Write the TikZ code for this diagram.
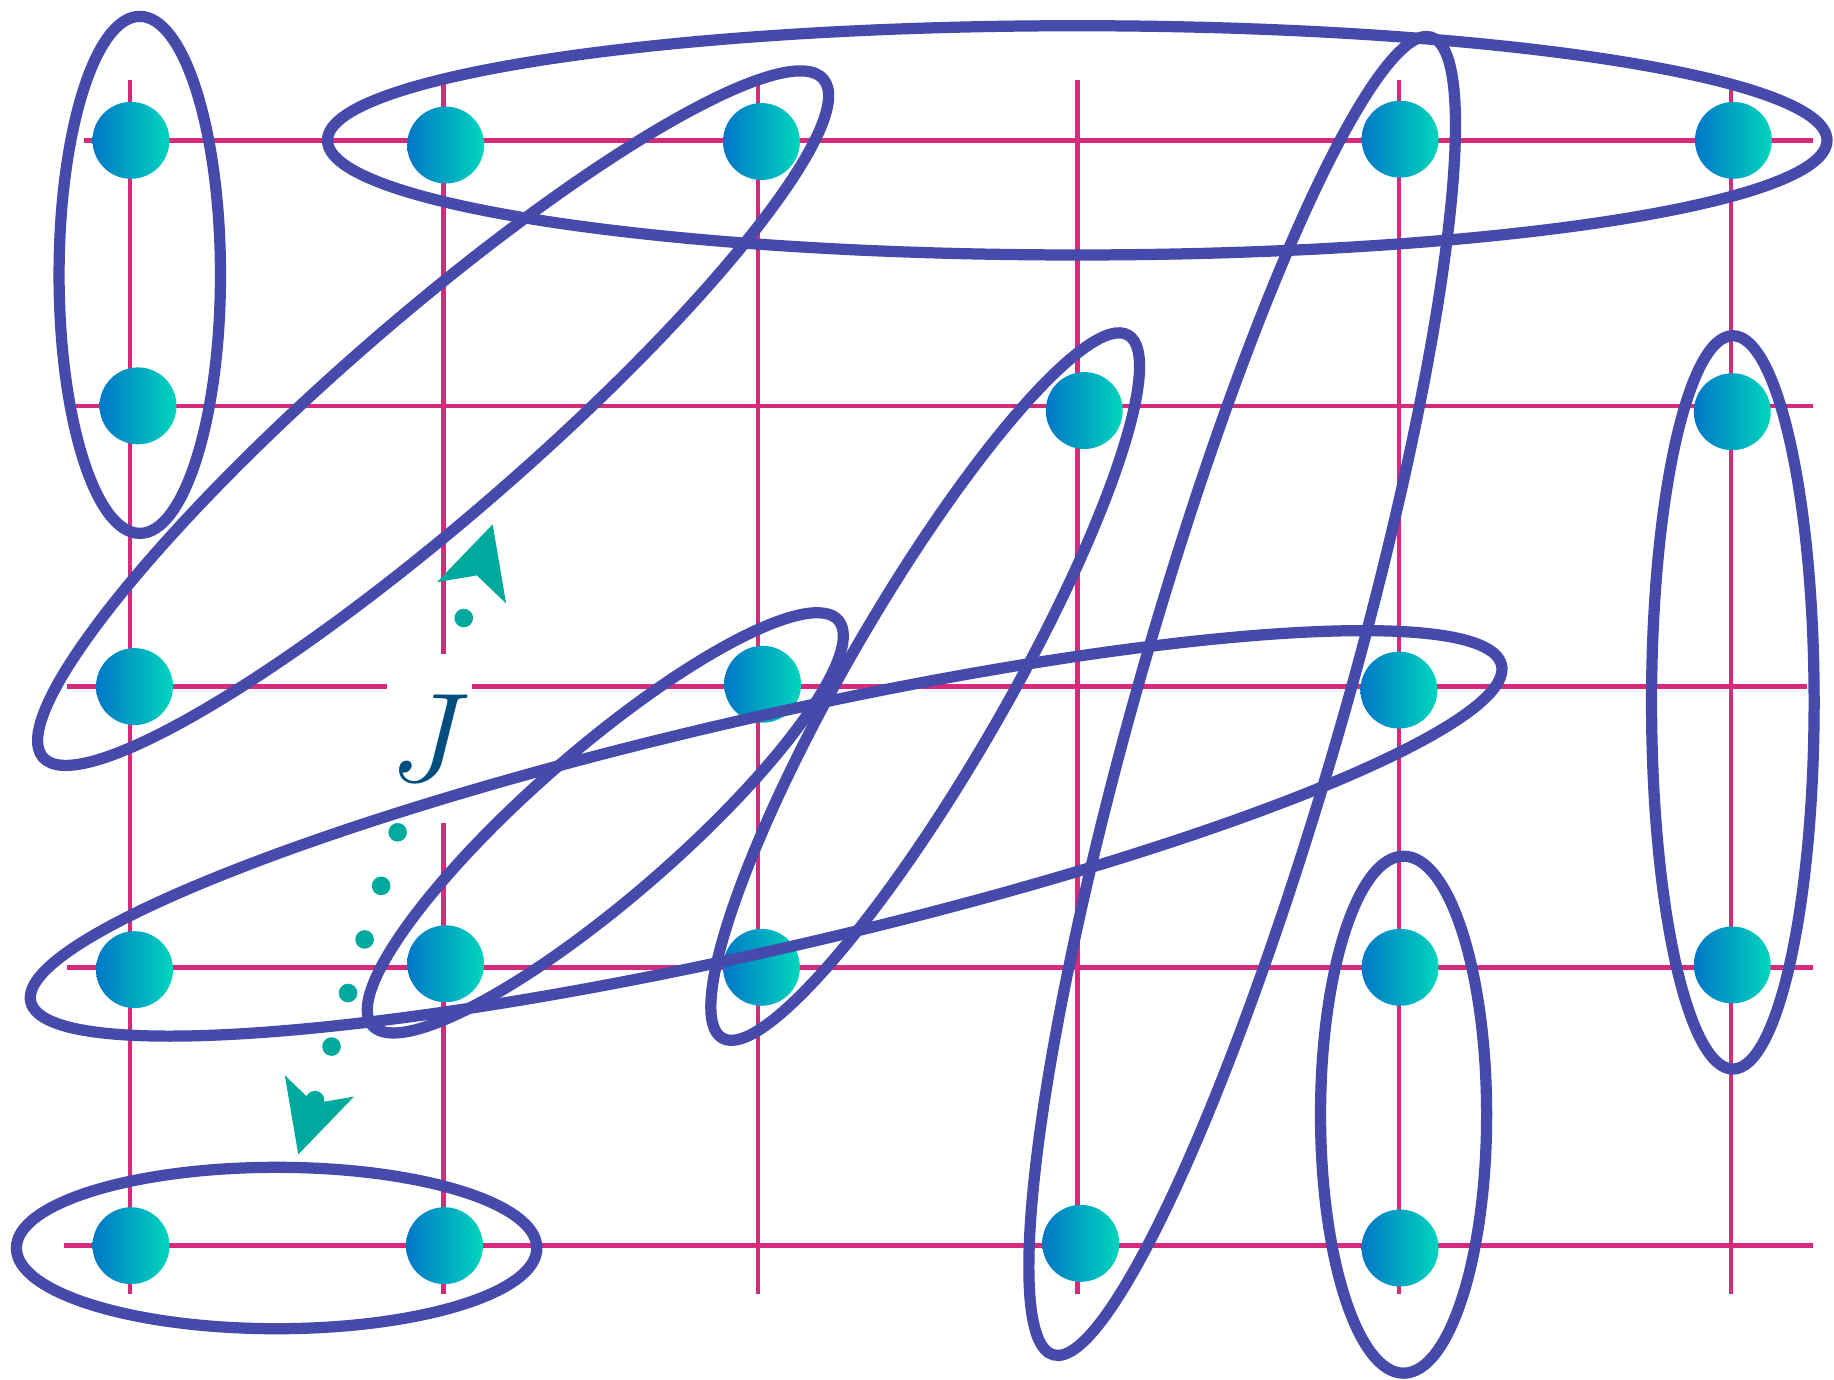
\documentclass[tikz,border=0pt]{standalone}
\usepackage{graphicx}
\usetikzlibrary{arrows.meta,calc}
\definecolor{ellc}{HTML}{454AAB}
\definecolor{gridc}{HTML}{D62A7B}
\definecolor{tealc}{HTML}{00A99D}
\definecolor{dotL}{HTML}{0077C8}
\definecolor{dotR}{HTML}{00D6BC}
\definecolor{jcol}{HTML}{004E7E}
\begin{document}
\begin{tikzpicture}[x=0.0116964cm, y=-0.0116964cm,
  gridline/.style={gridc, line width=1.3pt},
  ring/.style={ellc, line width=3.2pt},
  spin/.style={circle, minimum size=21.9pt, inner sep=0pt, left color=dotL, right color=dotR, draw=none},
  coupling/.style={tealc, line width=5.3pt, line cap=round, dash pattern=on 0pt off 15.96pt, dash phase=4.01pt, shorten >=6pt},
  jtip/.style={tealc, line width=0.1pt, -{Stealth[length=20.4pt, width=20.6pt, inset=5.2pt, line width=0pt]}}
]
\useasboundingbox (0,0) rectangle (1568,1179);
% grid
\foreach \x in {111,648,921,1196,1480} \draw[gridline] (\x,68) -- (\x,1106);
\draw[gridline] (379,72) -- (379,1106);
\draw[gridline] (72,120) -- (1550,120);
\draw[gridline] (63,347) -- (1550,347);
\draw[gridline] (57,587) -- (1545,587);
\draw[gridline] (57,827) -- (1550,827);
\draw[gridline] (55,1065) -- (1550,1065);
% coupling J
\coordinate (Jtop) at (421.2,448.3);
\coordinate (Jbot) at (255,987);
\draw[coupling] (Jtop) -- (Jbot);
\draw[jtip] ($(Jtop)!0.07!(Jbot)$) -- (Jtop);
\draw[jtip] ($(Jtop)!0.93!(Jbot)$) -- (Jbot);
\node[fill=white, minimum width=24.2pt, minimum height=48.1pt, inner sep=0pt, text=jcol, font=\fontsize{24.88}{30}\selectfont] (J) at (367,631) {\scalebox{1.45}{$J$}};
% spins
\node[spin] (s11) at (112,120) {};
\node[spin] (s12) at (381,124) {};
\node[spin] (s13) at (651,121) {};
\node[spin] (s15) at (1197,119) {};
\node[spin] (s16) at (1482,120) {};
\node[spin] (s21) at (118,347) {};
\node[spin] (s24) at (927,351) {};
\node[spin] (s26) at (1481,352) {};
\node[spin] (s31) at (115,587) {};
\node[spin] (s33) at (652,585) {};
\node[spin] (s35) at (1196,590) {};
\node[spin] (s41) at (115,829) {};
\node[spin] (s42) at (381,824) {};
\node[spin] (s43) at (651,827) {};
\node[spin] (s45) at (1197,827) {};
\node[spin] (s46) at (1481,825) {};
\node[spin] (s51) at (112,1065) {};
\node[spin] (s52) at (380,1065) {};
\node[spin] (s54) at (924,1063) {};
\node[spin] (s55) at (1197,1067) {};
% clusters
\draw[ring] (119.5,235) ellipse [x radius=69, y radius=221];
\draw[ring] (921,120) ellipse [x radius=641, y radius=98];
\draw[ring, rotate around={41:(370.3,357.5)}] (370.3,357.5) ellipse [x radius=442, y radius=84];
\draw[ring, rotate around={60:(791,587)}] (791,587) ellipse [x radius=347, y radius=68];
\draw[ring, rotate around={41:(517.5,703.5)}] (517.5,703.5) ellipse [x radius=264, y radius=63];
\draw[ring, rotate around={12.9:(655,712.5)}] (655,712.5) ellipse [x radius=645, y radius=99];
\draw[ring, rotate around={74:(1062,595)}] (1062,595) ellipse [x radius=586, y radius=88];
\draw[ring] (1481.5,600.5) ellipse [x radius=69.5, y radius=313.5];
\draw[ring] (1200,953) ellipse [x radius=71, y radius=221];
\draw[ring] (236.5,1067) ellipse [x radius=222.5, y radius=69];
\end{tikzpicture}
\end{document}
